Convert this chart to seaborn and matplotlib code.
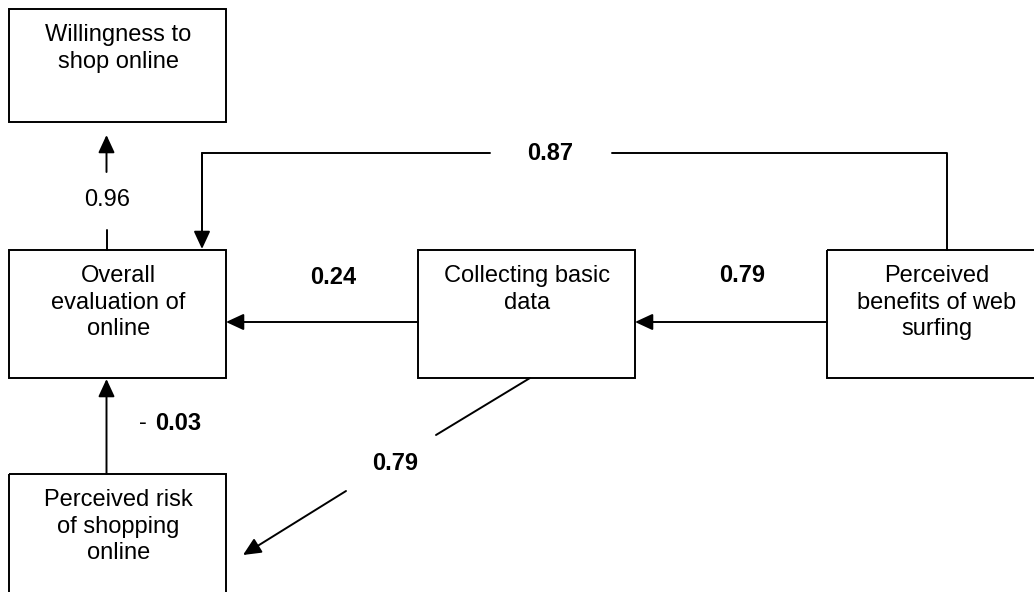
import pandas as pd
import matplotlib
matplotlib.use('Agg')
import matplotlib.pyplot as plt
import seaborn as sns

# path model: boxes and coefficients
nodes = ["Willingness to\nshop online",
         "Overall\nevaluation of\nonline",
         "Perceived risk\nof shopping\nonline",
         "Collecting basic\ndata",
         "Perceived\nbenefits of web\nsurfing"]
node_left = [9, 9, 9, 418, 827]
node_top = [9, 250, 474, 250, 250]
node_h = [113, 128, 128, 128, 128]
box_w = 217

coef_labels = ["0.96", "0.24", "0.79", "0.87", "0.03", "0.79"]
coef_bold = [False, True, True, True, True, True]

sns.set_theme(style='white')
plt.rcParams['font.family'] = ['Liberation Sans', 'DejaVu Sans']
plt.rcParams['text.color'] = 'black'
fs = 17

fig = plt.figure(figsize=(10.34, 5.92), dpi=100)
ax = fig.add_axes([0, 0, 1, 1])

# boxes
for i, name in enumerate(nodes):
    ax.add_patch(plt.Rectangle((node_left[i], node_top[i]), box_w, node_h[i],
                               fill=False, edgecolor='black', lw=1.4, clip_on=True))
    for j, line in enumerate(name.split('\n')):
        ax.text(node_left[i] + box_w / 2 + 1, node_top[i] + 26 + j * 26.7, line,
                ha='center', va='center', fontsize=fs, color='black')

cx = [l + box_w / 2 for l in node_left]
right = [l + box_w for l in node_left]
bottom = [t + h for t, h in zip(node_top, node_h)]

# plain line segments (no arrowheads)
segs = [
    [(cx[1] - 11, node_top[1]), (cx[1] - 11, 230)],              # 0.96 lower part
    [(947, node_top[4]), (947, 153), (612, 153)],                 # 0.87 right part
    [(490, 153), (202, 153), (202, 236)],                        # 0.87 left part
    [(530, bottom[3]), (436, 435)],                               # 0.79 diag upper
]
rows = []
for k, s in enumerate(segs):
    for (x, y) in s:
        rows.append({'seg': k, 'x': x, 'y': y})
df = pd.DataFrame(rows)
sns.lineplot(data=df, x='x', y='y', units='seg', estimator=None, sort=False,
             color='black', lw=1.4, ax=ax, legend=False)
ax.set_xlim(0, 1034)
ax.set_ylim(592, 0)
ax.axis('off')

# arrows
arrows = [
    ((cx[1] - 11, 172), (cx[1] - 11, 135)),          # to willingness
    ((202, 153), (202, node_top[1] - 1)),            # 0.87 head
    ((node_left[3], 322), (right[1], 322)),          # 0.24
    ((node_left[4], 322), (right[3], 322)),          # 0.79
    ((cx[2] - 11, node_top[2]), (cx[2] - 11, bottom[1] + 1)),  # -0.03
    ((346, 491), (243, 555)),                        # 0.79 diag lower
]
for (x0, y0), (x1, y1) in arrows:
    ax.annotate('', xy=(x1, y1), xytext=(x0, y0),
                arrowprops=dict(arrowstyle='-|>,head_length=10.8,head_width=5',
                                mutation_scale=1, color='black', lw=1.4,
                                shrinkA=0, shrinkB=0))

# coefficient labels
label_pos = [(107, 200), (333, 277), (742, 276), (550, 153), (178, 423), (395, 464)]
for (x, y), t, b in zip(label_pos, coef_labels, coef_bold):
    ax.text(x, y, t, ha='center', va='center', fontsize=fs, color='black',
            fontweight='bold' if b else 'normal')
ax.text(147, 423, "-", ha='right', va='center', fontsize=fs, color='black')

fig.savefig('out.png', dpi=100)
